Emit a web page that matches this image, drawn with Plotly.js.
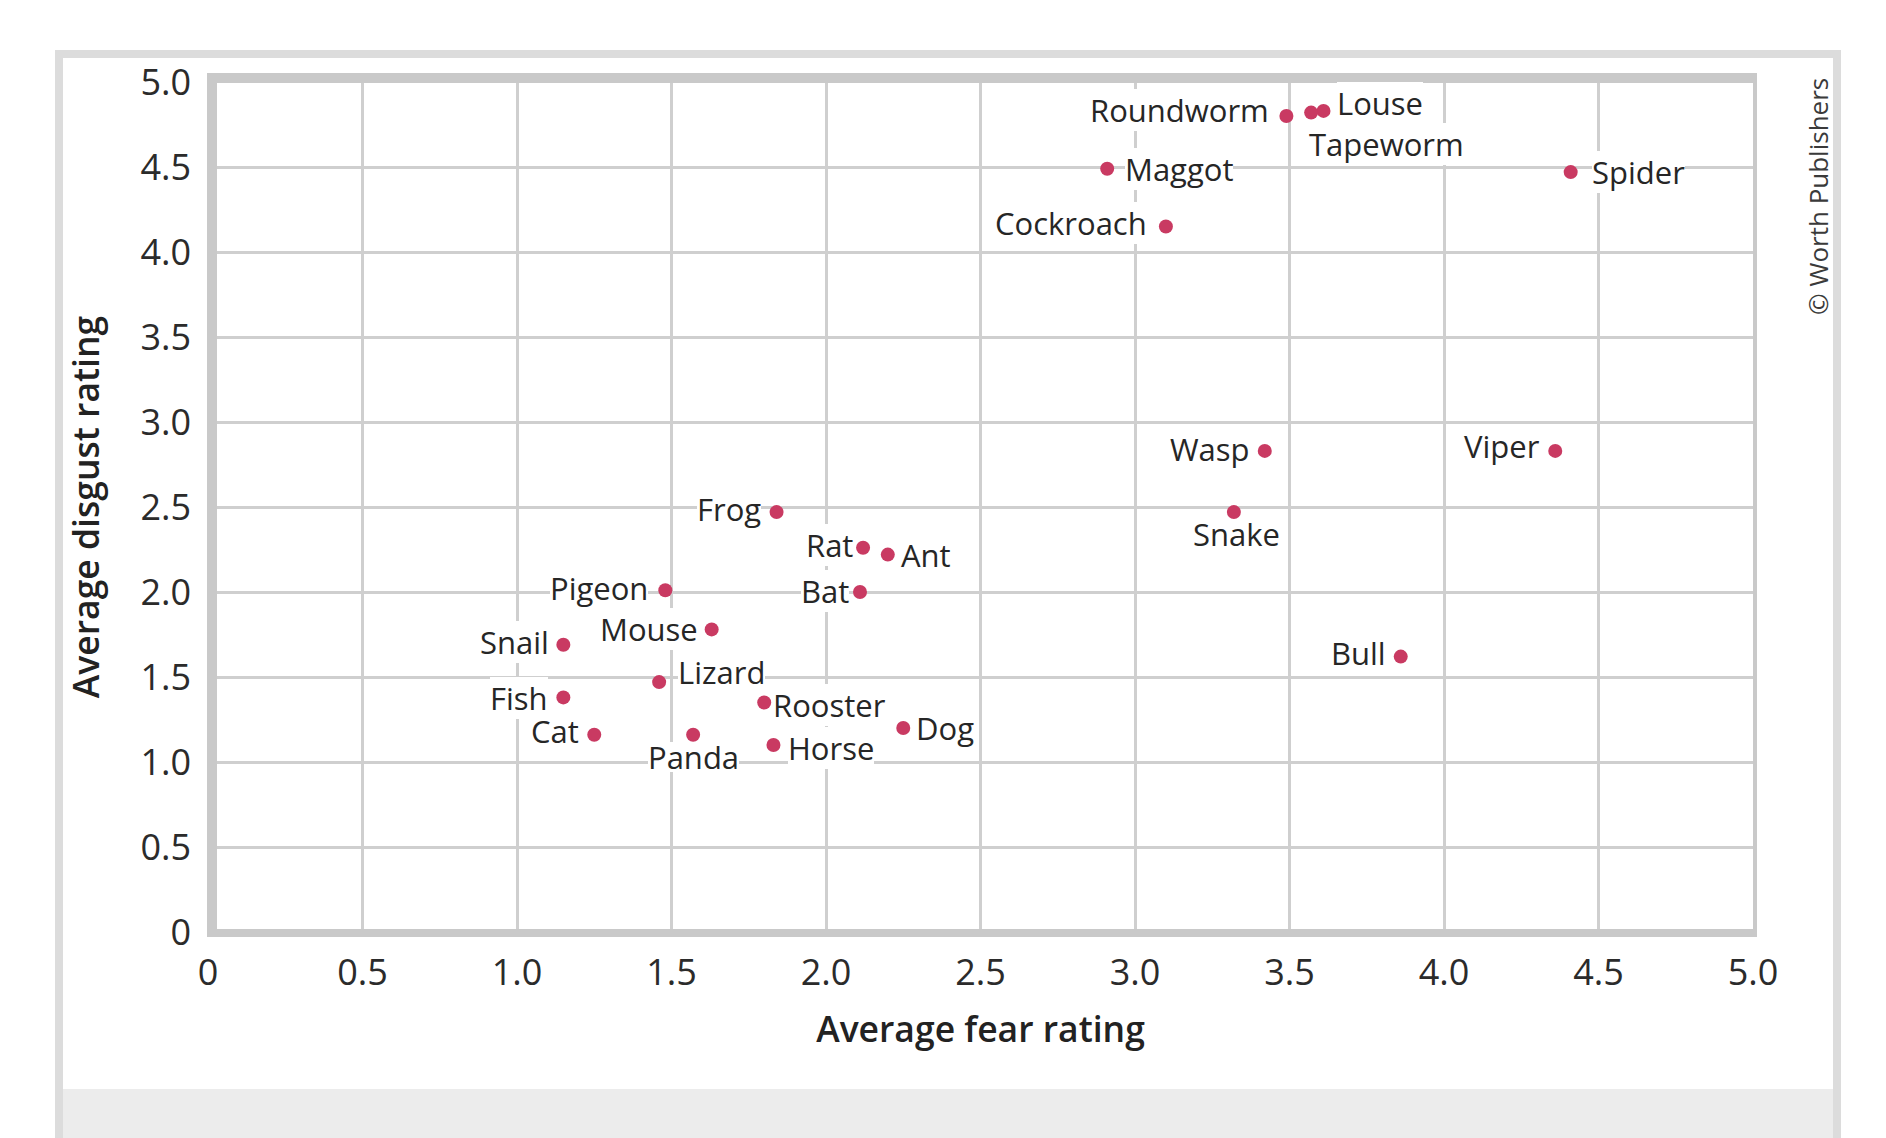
<!DOCTYPE html>
<html>
<head>
<meta charset="utf-8">
<script src="https://cdn.plot.ly/plotly-3.0.1.min.js"></script>
<style>
  html, body { margin: 0; padding: 0; background: #ffffff; }
  #wrap { position: relative; width: 1886px; height: 1138px; overflow: hidden; background: #ffffff; }
  #frame { position: absolute; left: 55px; top: 50px; width: 1786px; height: 1200px;
           box-sizing: border-box; border: 8px solid #dcdcdc; background: #ffffff; }
  #footer { position: absolute; left: 63px; top: 1089px; width: 1770px; height: 60px; background: #ececec; }
  #plot { position: absolute; left: 0; top: 0; width: 1886px; height: 1138px; }
</style>
</head>
<body>
<div id="wrap">
  <div id="frame"></div>
  <div id="footer"></div>
  <div id="plot"></div>
</div>
<script>
// ---- data ----
const animals = ["Roundworm","Louse","Tapeworm","Maggot","Spider","Cockroach","Wasp","Viper","Snake",
                 "Frog","Rat","Ant","Pigeon","Bat","Mouse","Snail","Bull","Lizard","Fish","Rooster",
                 "Cat","Panda","Dog","Horse"];
const fearRating =    [3.49, 3.61, 3.57, 2.91, 4.41, 3.10, 3.42, 4.36, 3.32,
                       1.84, 2.12, 2.20, 1.48, 2.11, 1.63, 1.15, 3.86, 1.46, 1.15, 1.80,
                       1.25, 1.57, 2.25, 1.83];
const disgustRating = [4.80, 4.83, 4.82, 4.49, 4.47, 4.15, 2.83, 2.83, 2.47,
                       2.47, 2.26, 2.22, 2.01, 2.00, 1.78, 1.69, 1.62, 1.47, 1.38, 1.35,
                       1.16, 1.16, 1.20, 1.10];
const tickValues = [0, 0.5, 1, 1.5, 2, 2.5, 3, 3.5, 4, 4.5, 5];
const tickLabels = ["0", "0.5", "1.0", "1.5", "2.0", "2.5", "3.0", "3.5", "4.0", "4.5", "5.0"];
const xTitle = "Average fear rating";
const yTitle = "Average disgust rating";
const credit = "© Worth Publishers";

// ---- label placement (style only) ----
const labelAnchor = ["right","left","left","left","left","right","right","right","center",
                     "right","right","left","right","right","right","right","right","left","right","left",
                     "right","center","left","left"];
const labelDx = [-17, 14, -2, 18, 21, -19, -15, -15, 3,
                 -16, -10, 13, -17, -11, -14, -14, -15, 19, -15, 9,
                 -15, 0, 13, 15];
const labelDy = [6, 8, -31, 0, 0, 4, 2, 5, -22,
                 3, 3, 0, 2, 1, 0, 3, 4, 10, -1, -2,
                 4, -22, 0, -3];
// white knock-out box behind each label (null = fit text); "none" = no box
const labelBoxHeight = [null, null, null, null, null, null, null, null, "none",
                        null, null, null, null, null, null, null, null, null, null, null,
                        null, 30, null, null];

// ---- geometry helpers (pixels -> paper) ----
const W = 1886, H = 1138;
const M = {l: 208, r: 133, t: 82, b: 206};
const PW = W - M.l - M.r, PH = H - M.t - M.b;
const px = x => (x - M.l) / PW;
const py = y => (H - M.b - y) / PH;

const borderColor = "#c9c9c9";
const shapes = [
  {type: "line", xref: "paper", yref: "paper", x0: px(207), x1: px(1757), y0: py(78), y1: py(78),
   line: {color: borderColor, width: 10}, layer: "above"},
  {type: "line", xref: "paper", yref: "paper", x0: px(207), x1: px(1757), y0: py(933), y1: py(933),
   line: {color: borderColor, width: 8}, layer: "above"},
  {type: "line", xref: "paper", yref: "paper", x0: px(212), x1: px(212), y0: py(73), y1: py(937),
   line: {color: borderColor, width: 10}, layer: "above"},
  {type: "line", xref: "paper", yref: "paper", x0: px(1755), x1: px(1755), y0: py(73), y1: py(937),
   line: {color: borderColor, width: 4}, layer: "above"}
];

const labelFont = {family: "Open Sans, DejaVu Sans, sans-serif", size: 31, color: "#262626"};
const annotations = animals.map((name, i) => {
  const a = {
    x: fearRating[i], y: disgustRating[i], xref: "x", yref: "y",
    text: name, showarrow: false,
    xanchor: labelAnchor[i], yanchor: "middle", valign: "middle",
    xshift: labelDx[i], yshift: labelDy[i],
    font: labelFont, bgcolor: "#ffffff", borderpad: 0, borderwidth: 0
  };
  const h = labelBoxHeight[i];
  if (h === "none") a.bgcolor = "rgba(0,0,0,0)";
  else if (h !== null) a.height = h;
  return a;
});
annotations.push({
  xref: "paper", yref: "paper", x: px(1818), y: py(197), text: credit, showarrow: false,
  textangle: -90, xanchor: "center", yanchor: "middle",
  font: {family: "Open Sans, DejaVu Sans, sans-serif", size: 26, color: "#3a3a3a"}
});

const trace = {
  type: "scatter", mode: "markers",
  x: fearRating, y: disgustRating, text: animals,
  marker: {size: 14, color: "#c93a62", line: {width: 0}},
  hoverinfo: "text", cliponaxis: false
};

const tickFont = {family: "Open Sans, DejaVu Sans, sans-serif", size: 36, color: "#2b2b2b"};
const titleFont = {family: "Open Sans, DejaVu Sans, sans-serif", size: 35.5, color: "#222222", weight: 600};

const layout = {
  width: W, height: H,
  margin: {l: M.l, r: M.r, t: M.t, b: M.b, pad: 0},
  paper_bgcolor: "rgba(0,0,0,0)",
  plot_bgcolor: "#ffffff",
  showlegend: false,
  hovermode: false,
  xaxis: {
    range: [0, 5], tickvals: tickValues, ticktext: tickLabels,
    showgrid: true, gridcolor: "#cfcfcf", gridwidth: 3,
    zeroline: false, showline: false, ticks: "",
    tickfont: tickFont, ticklabelstandoff: 16,
    title: {text: xTitle, font: titleFont, standoff: 22},
    fixedrange: true
  },
  yaxis: {
    range: [0, 5], tickvals: tickValues, ticktext: tickLabels,
    showgrid: true, gridcolor: "#cfcfcf", gridwidth: 3,
    zeroline: false, showline: false, ticks: "",
    tickfont: tickFont, ticklabelstandoff: 16,
    title: {text: yTitle, font: titleFont, standoff: 29},
    fixedrange: true
  },
  shapes: shapes,
  annotations: annotations
};

Plotly.newPlot("plot", [trace], layout, {displayModeBar: false, staticPlot: true});
</script>
</body>
</html>
